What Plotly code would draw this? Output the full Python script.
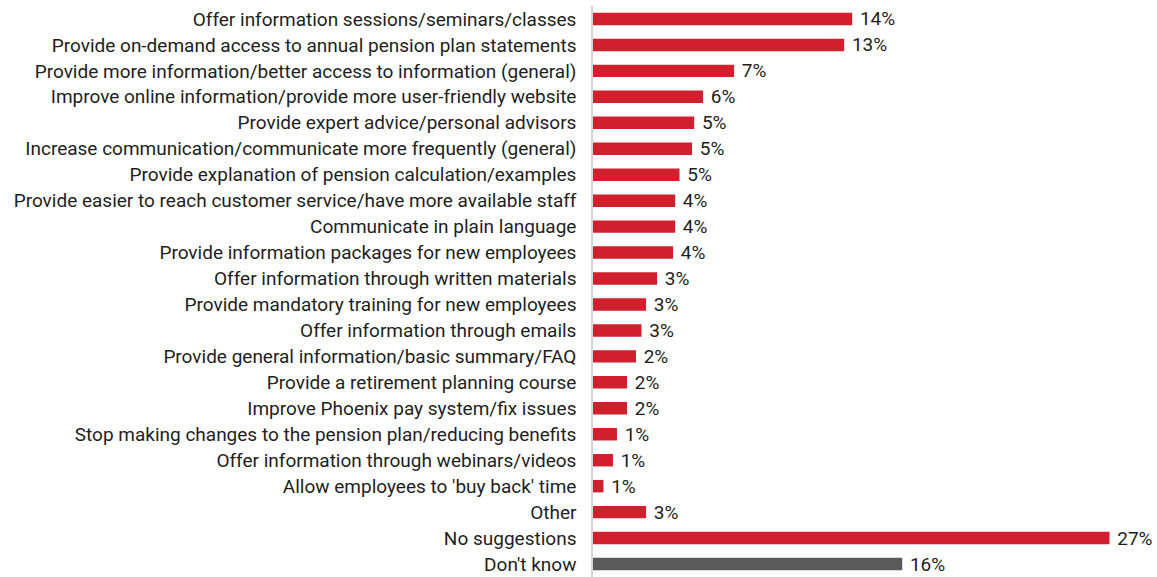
import plotly.graph_objects as go

# Suggestions for improving pension communication (% of respondents)
categories = [
    "Offer information sessions/seminars/classes",
    "Provide on-demand access to annual pension plan statements",
    "Provide more information/better access to information (general)",
    "Improve online information/provide more user-friendly website",
    "Provide expert advice/personal advisors",
    "Increase communication/communicate more frequently (general)",
    "Provide explanation of pension calculation/examples",
    "Provide easier to reach customer service/have more available staff",
    "Communicate in plain language",
    "Provide information packages for new employees",
    "Offer information through written materials",
    "Provide mandatory training for new employees",
    "Offer information through emails",
    "Provide general information/basic summary/FAQ",
    "Provide a retirement planning course",
    "Improve Phoenix pay system/fix issues",
    "Stop making changes to the pension plan/reducing benefits",
    "Offer information through webinars/videos",
    "Allow employees to 'buy back' time",
    "Other",
    "No suggestions",
    "Don't know",
]

values = [
    13.63, 13.21, 7.42, 5.79, 5.32, 5.21, 4.55, 4.32, 4.32, 4.21, 3.37,
    2.79, 2.55, 2.26, 1.79, 1.79, 1.26, 1.05, 0.55, 2.79, 27.16, 16.26,
]

RED = "#d0202e"
GREY = "#5a5a5a"
colors = [GREY if c == "Don't know" else RED for c in categories]

FONT = "Roboto"
TEXT = "#1e1e1e"

fig = go.Figure(
    go.Bar(
        x=values,
        y=categories,
        orientation="h",
        marker=dict(color=colors, line=dict(width=0)),
        width=0.48,
        texttemplate="\u00a0%{x:.0f}%",
        textposition="outside",
        cliponaxis=False,
        constraintext="none",
        textfont=dict(family=FONT, size=19, color=TEXT),
        hoverinfo="skip",
    )
)

fig.update_layout(
    width=1157,
    height=577,
    margin=dict(l=593, r=3, t=6, b=0),
    paper_bgcolor="white",
    plot_bgcolor="white",
    showlegend=False,
    font=dict(family=FONT, size=19, color=TEXT),
    xaxis=dict(
        range=[0, 29.5],
        showgrid=False,
        zeroline=False,
        showticklabels=False,
        showline=False,
        fixedrange=True,
    ),
    yaxis=dict(
        autorange="reversed",
        showgrid=False,
        zeroline=False,
        showline=True,
        linecolor="#d4d4d4",
        linewidth=1.5,
        ticks="",
        ticklabelstandoff=11,
        tickfont=dict(family=FONT, size=19, color=TEXT),
        automargin=False,
        fixedrange=True,
    ),
)

fig.write_html("out.html")
